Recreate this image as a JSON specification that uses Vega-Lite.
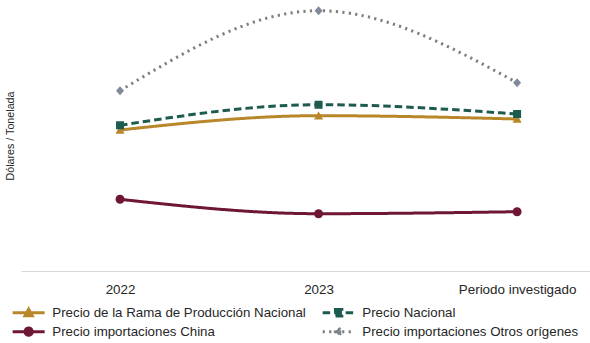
{
  "$schema": "https://vega.github.io/schema/vega-lite/v6.json",
  "width": 569,
  "height": 271,
  "autosize": {"type": "none"},
  "padding": {"left": 21, "top": 0, "right": 0, "bottom": 72},
  "config": {"font": "Liberation Sans", "view": {"stroke": null}},
  "data": {
    "values": [
      {"periodo": "2022", "serie": "Precio de la Rama de Producción Nacional", "valor": 141},
      {"periodo": "2023", "serie": "Precio de la Rama de Producción Nacional", "valor": 155.3},
      {"periodo": "Periodo investigado", "serie": "Precio de la Rama de Producción Nacional", "valor": 152},
      {"periodo": "2022", "serie": "Precio Nacional", "valor": 145.7},
      {"periodo": "2023", "serie": "Precio Nacional", "valor": 166.3},
      {"periodo": "Periodo investigado", "serie": "Precio Nacional", "valor": 157},
      {"periodo": "2022", "serie": "Precio importaciones China", "valor": 71.7},
      {"periodo": "2023", "serie": "Precio importaciones China", "valor": 57.3},
      {"periodo": "Periodo investigado", "serie": "Precio importaciones China", "valor": 59.3},
      {"periodo": "2022", "serie": "Precio importaciones Otros orígenes", "valor": 180.3},
      {"periodo": "2023", "serie": "Precio importaciones Otros orígenes", "valor": 260.3},
      {"periodo": "Periodo investigado", "serie": "Precio importaciones Otros orígenes", "valor": 188.3}
    ]
  },
  "encoding": {
    "x": {
      "field": "periodo",
      "type": "ordinal",
      "sort": ["2022", "2023", "Periodo investigado"],
      "scale": {"type": "point", "padding": 0.433, "align": 0.576},
      "axis": {
        "title": null,
        "labelAngle": 0,
        "ticks": false,
        "tickSize": 0,
        "labelPadding": 11,
        "labelFontSize": 13.4,
        "labelColor": "#262626",
        "domainColor": "#D9D9D9",
        "domainWidth": 1,
        "grid": false
      }
    },
    "y": {
      "field": "valor",
      "type": "quantitative",
      "scale": {"domain": [0, 271], "nice": false},
      "axis": {
        "title": "Dólares / Tonelada",
        "titleFontSize": 10.7,
        "titleFontWeight": "normal",
        "titleColor": "#262626",
        "titlePadding": 6,
        "labels": false,
        "ticks": false,
        "domain": false,
        "grid": false
      }
    }
  },
  "layer": [
    {
      "mark": {"type": "line", "interpolate": "monotone", "strokeWidth": 3},
      "encoding": {
        "color": {
          "field": "serie",
          "type": "nominal",
          "scale": {
            "domain": ["Precio de la Rama de Producción Nacional", "Precio Nacional", "Precio importaciones China", "Precio importaciones Otros orígenes"],
            "range": ["#B8872A", "#1E5B4F", "#6F1634", "#7F7F7F"]
          },
          "legend": {
            "title": null,
            "orient": "none",
            "direction": "horizontal",
            "legendX": -15,
            "legendY": 306,
            "columns": 2,
            "columnPadding": 10,
            "rowPadding": 0,
            "padding": 0,
            "symbolSize": 64,
            "symbolOffset": 16,
            "labelOffset": 17,
            "labelFontSize": 13.3,
            "labelColor": "#262626",
            "labelLimit": 400,
            "symbolStrokeWidth": 3
          }
        },
        "strokeDash": {
          "field": "serie",
          "type": "nominal",
          "scale": {
            "domain": ["Precio de la Rama de Producción Nacional", "Precio Nacional", "Precio importaciones China", "Precio importaciones Otros orígenes"],
            "range": [[1, 0], [7.5, 4], [1, 0], [2.2, 4.3]]
          }
        }
      }
    },
    {
      "mark": {"type": "point", "filled": true, "opacity": 1, "size": 100, "strokeWidth": 0},
      "encoding": {
        "fill": {
          "field": "serie",
          "type": "nominal",
          "scale": {
            "domain": ["Precio de la Rama de Producción Nacional", "Precio Nacional", "Precio importaciones China", "Precio importaciones Otros orígenes"],
            "range": ["#B8872A", "#1E5B4F", "#6F1634", "#7F8B99"]
          }
        },
        "shape": {
          "field": "serie",
          "type": "nominal",
          "scale": {
            "domain": ["Precio de la Rama de Producción Nacional", "Precio Nacional", "Precio importaciones China", "Precio importaciones Otros orígenes"],
            "range": [
              "M-4,0H4M-0.9,0.75L0,-0.9L0.9,0.75Z",
              "M-4,0H4M-0.8,-0.8H0.8V0.8H-0.8Z",
              "M-4,0H4M-0.9,0A0.9,0.9,0,1,0,0.9,0A0.9,0.9,0,1,0,-0.9,0Z",
              "M-4,0H4M0,-0.9L0.8,0L0,0.9L-0.8,0Z"
            ]
          }
        }
      }
    }
  ]
}
